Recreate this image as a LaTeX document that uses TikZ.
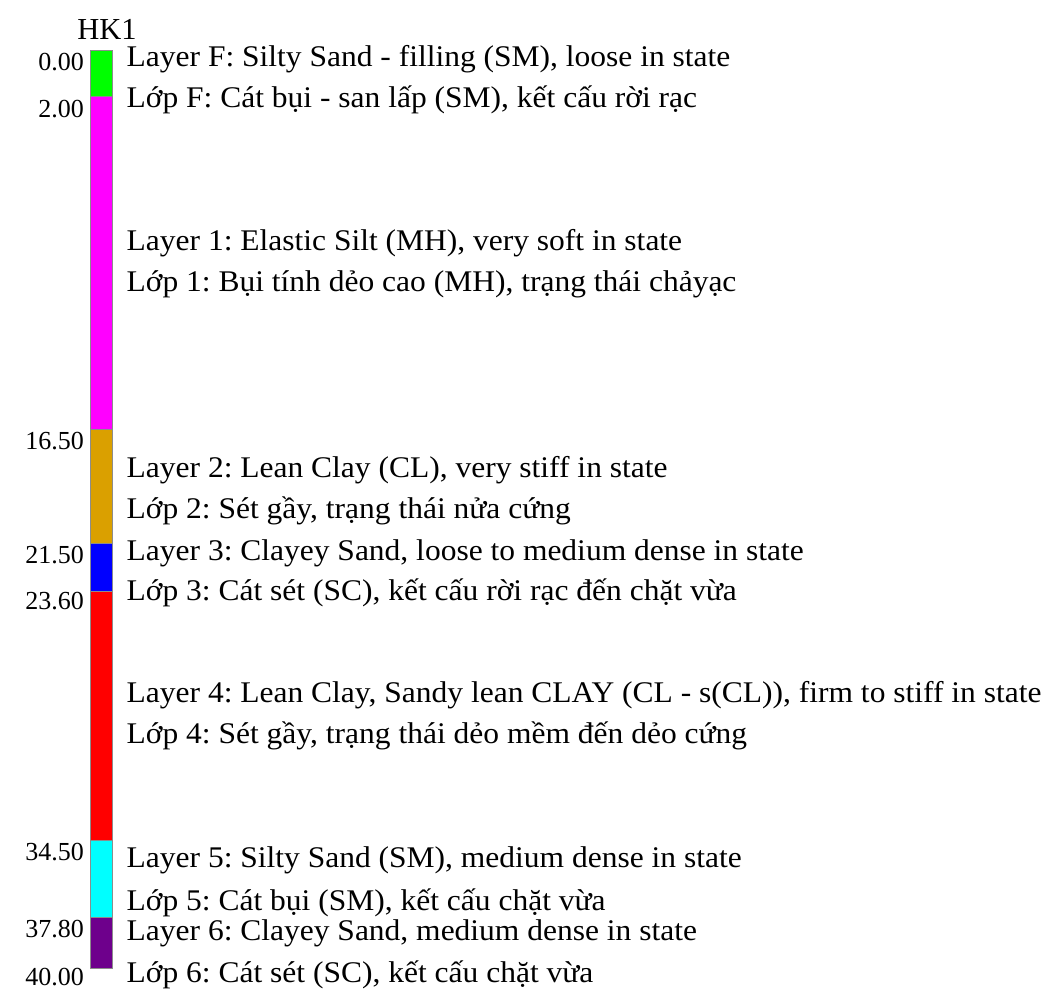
\documentclass[tikz,border=0pt]{standalone}
\usepackage{fontspec}
\setmainfont{Liberation Serif}
\newfontfamily\descfont[FakeStretch=1.05]{Liberation Serif}
\definecolor{cF}{RGB}{0,255,0}
\definecolor{c1}{RGB}{255,0,255}
\definecolor{c2}{RGB}{218,160,0}
\definecolor{c3}{RGB}{0,0,255}
\definecolor{c4}{RGB}{255,0,0}
\definecolor{c5}{RGB}{0,255,255}
\definecolor{c6}{RGB}{110,0,140}
\tikzset{
  layerbox/.style={draw=black!45, line width=0.6pt},
  desc/.style={anchor=base west, inner sep=0pt, font=\descfont\fontsize{30}{34}\selectfont},
  depth/.style={anchor=base east, inner sep=0pt, font=\fontsize{26}{30}\selectfont},
  title/.style={anchor=base, inner sep=0pt, font=\fontsize{30.5}{34}\selectfont}
}
\frenchspacing
\begin{document}
\begin{tikzpicture}[x=1pt,y=-1pt]
\useasboundingbox (0,0) rectangle (1057,996);
% column
\path[layerbox, fill=cF] (90,50) rectangle (112.7,96.7);
\path[layerbox, fill=c1] (90,96.7) rectangle (112.7,429.3);
\path[layerbox, fill=c2] (90,429.3) rectangle (112.7,543.3);
\path[layerbox, fill=c3] (90,543.3) rectangle (112.7,591.7);
\path[layerbox, fill=c4] (90,591.7) rectangle (112.7,840);
\path[layerbox, fill=c5] (90,840) rectangle (112.7,917.7);
\path[layerbox, fill=c6] (90,917.7) rectangle (112.7,968.3);
% title
\node[title] (hk) at (107,39.3) {HK1};
% depths
\node[depth] (d0) at (84,70.7) {0.00};
\node[depth] (d1) at (84,117) {2.00};
\node[depth] (d2) at (84,449) {16.50};
\node[depth] (d3) at (84,563) {21.50};
\node[depth] (d4) at (84,609) {23.60};
\node[depth] (d5) at (84,860.7) {34.50};
\node[depth] (d6) at (84,937) {37.80};
\node[depth] (d7) at (84,985.7) {40.00};
% descriptions
\node[desc] (tF) at (126.5,66) {Layer F: Silty Sand - filling (SM), loose in state};
\node[desc] (vF) at (126.5,107) {Lớp F: Cát bụi - san lấp (SM), kết cấu rời rạc};
\node[desc] (t1) at (126.5,250) {Layer 1: Elastic Silt (MH), very soft in state};
\node[desc] (v1) at (126.5,291) {Lớp 1: Bụi tính dẻo cao (MH), trạng thái chảyạc};
\node[desc] (t2) at (126.5,477.3) {Layer 2: Lean Clay (CL), very stiff in state};
\node[desc] (v2) at (126.5,518.3) {Lớp 2: Sét gầy, trạng thái nửa cứng};
\node[desc] (t3) at (126.5,560) {Layer 3: Clayey Sand, loose to medium dense in state};
\node[desc] (v3) at (126.5,600) {Lớp 3: Cát sét (SC), kết cấu rời rạc đến chặt vừa};
\node[desc] (t4) at (126.5,702) {Layer 4: Lean Clay, Sandy lean CLAY (CL - s(CL)), firm to stiff in state};
\node[desc] (v4) at (126.5,743) {Lớp 4: Sét gầy, trạng thái dẻo mềm đến dẻo cứng};
\node[desc] (t5) at (126.5,867.3) {Layer 5: Silty Sand (SM), medium dense in state};
\node[desc] (v5) at (126.5,910) {Lớp 5: Cát bụi (SM), kết cấu chặt vừa};
\node[desc] (t6) at (126.5,940) {Layer 6: Clayey Sand, medium dense in state};
\node[desc] (v6) at (126.5,982) {Lớp 6: Cát sét (SC), kết cấu chặt vừa};
\end{tikzpicture}
\end{document}
